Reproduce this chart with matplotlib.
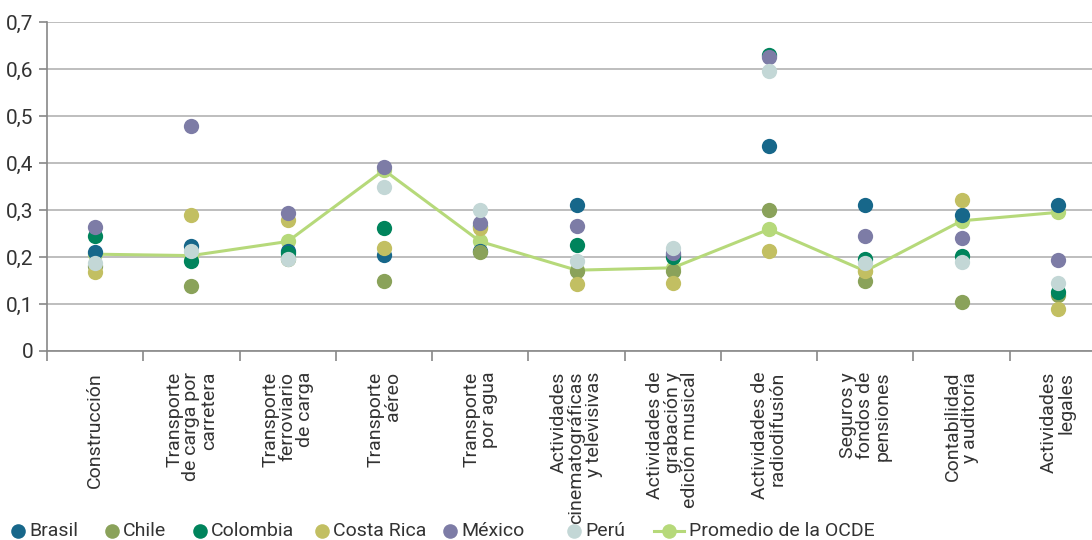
import matplotlib
matplotlib.use("Agg")
import matplotlib.pyplot as plt
from matplotlib.lines import Line2D

plt.rcParams['font.family'] = ['Roboto', 'DejaVu Sans']

categories = [
    "Construcción",
    "Transporte\nde carga por\ncarretera",
    "Transporte\nferroviario\nde carga",
    "Transporte\naéreo",
    "Transporte\npor agua",
    "Actividades\ncinematográficas\ny televisivas",
    "Actividades de\ngrabación y\nedición musical",
    "Actividades de\nradiodifusión",
    "Seguros y\nfondos de\npensiones",
    "Contabilidad\ny auditoría",
    "Actividades\nlegales",
]

brasil     = [0.210, 0.223, 0.213, 0.204, 0.213, 0.311, 0.205, 0.437, 0.310, 0.289, 0.310]
chile      = [0.180, 0.139, 0.195, 0.150, 0.211, 0.170, 0.171, 0.300, 0.150, 0.105, 0.119]
colombia   = [0.245, 0.192, 0.208, 0.262, 0.266, 0.226, 0.200, 0.630, 0.195, 0.203, 0.126]
costa_rica = [0.168, 0.290, 0.278, 0.220, 0.261, 0.143, 0.144, 0.212, 0.170, 0.321, 0.089]
mexico     = [0.264, 0.478, 0.293, 0.392, 0.273, 0.266, 0.208, 0.625, 0.245, 0.240, 0.194]
peru       = [0.187, 0.212, 0.196, 0.348, 0.299, 0.192, 0.219, 0.596, 0.187, 0.190, 0.144]
ocde       = [0.206, 0.203, 0.233, 0.385, 0.233, 0.172, 0.177, 0.259, 0.170, 0.277, 0.295]

series = [
    ("Brasil", brasil, "#17678a"),
    ("Chile", chile, "#8aa25a"),
    ("Colombia", colombia, "#00845c"),
    ("Costa Rica", costa_rica, "#c2bf62"),
    ("México", mexico, "#7d7ca6"),
    ("Perú", peru, "#c3d7d6"),
]
ocde_label = "Promedio de la OCDE"
ocde_color = "#b6d97a"

yticks = [0, 0.1, 0.2, 0.3, 0.4, 0.5, 0.6, 0.7]
ytick_labels = ["0", "0,1", "0,2", "0,3", "0,4", "0,5", "0,6", "0,7"]

W, H = 1092, 540
fig = plt.figure(figsize=(W / 100, H / 100), dpi=100)
ax = fig.add_axes([47 / W, 189 / H, 1059 / W, 329 / H])

x = list(range(len(categories)))
ax.plot(x, ocde, color=ocde_color, lw=2.2, marker='o', ms=11, mec='none', zorder=3)
for name, vals, col in series:
    ax.plot(x, vals, linestyle='none', marker='o', ms=11, color=col, mec='none', zorder=4)

ax.set_xlim(-0.5, len(categories) - 0.5)
ax.set_ylim(0, 0.7)
ax.set_yticks(yticks)
ax.set_yticklabels(ytick_labels, fontsize=15, color="#333333")
ax.yaxis.grid(True, color="#b3b3b3", lw=1.2)
ax.set_axisbelow(True)

ax.set_xticks([i - 0.5 for i in range(len(categories) + 1)])
ax.set_xticklabels([])
ax.set_xticks(x, minor=True)
ax.set_xticklabels(categories, minor=True, rotation=90, ha='center', va='top',
                   multialignment='right', fontsize=14, color="#333333", linespacing=0.95)
ax.tick_params(axis='x', which='minor', length=0, pad=15)
ax.tick_params(axis='x', which='major', length=7, color="#888888", width=1.2)
ax.tick_params(axis='y', length=6, color="#888888", width=1.2, pad=4)

for s in ['top', 'right']:
    ax.spines[s].set_visible(False)
for s in ['left', 'bottom']:
    ax.spines[s].set_color("#888888")
    ax.spines[s].set_linewidth(1.2)

# Legend drawn manually in figure pixel coordinates
leg_y = 1 - 531 / H
marker_px = [18, 112, 200, 322, 450, 574]
for (name, _, col), mx in zip(series, marker_px):
    fig.add_artist(Line2D([mx / W], [leg_y], transform=fig.transFigure, linestyle='none',
                          marker='o', ms=10.5, color=col, mec='none'))
    fig.text((mx + 11) / W, leg_y, name, fontsize=14, color="#333333", va='center', ha='left')
fig.add_artist(Line2D([654 / W, 684 / W], [leg_y, leg_y], transform=fig.transFigure,
                      color=ocde_color, lw=2.2))
fig.add_artist(Line2D([669 / W], [leg_y], transform=fig.transFigure, linestyle='none',
                      marker='o', ms=10.5, color=ocde_color, mec='none'))
fig.text(689 / W, leg_y, ocde_label, fontsize=14, color="#333333", va='center', ha='left')

fig.savefig("out.png", dpi=100)
